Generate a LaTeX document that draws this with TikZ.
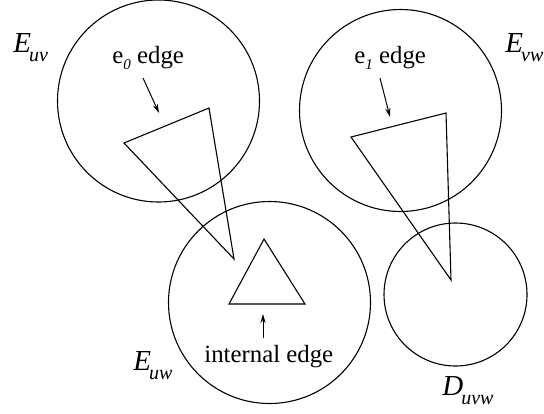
\documentclass[tikz,border=0pt]{standalone}
\usepackage{fontspec}
\setmainfont{Liberation Serif}
\usetikzlibrary{arrows.meta, positioning}
\tikzset{
  >={Stealth[length=4.5pt,width=2.6pt]},
  % regioni circolari
  region/.style={circle,draw,line width=0.55pt,inner sep=0pt,minimum size=101pt},
  small region/.style={region,minimum size=71.5pt},
  % triangoli ed etichette
  face/.style={line width=0.55pt,line join=miter},
  pointer/.style={->,line width=0.5pt},
  setname/.style={inner sep=0pt,anchor=base west,font=\fontsize{14.5}{16}\selectfont\itshape},
  tag/.style={inner sep=0pt,anchor=base west,font=\fontsize{12.4}{15}\selectfont}
}
\newcommand{\regname}[3][-1pt]{#2\kern#1\raisebox{-4.8pt}{\fontsize{10}{10}\selectfont #3}}
\newcommand{\ename}[1]{e\raisebox{-3pt}{\fontsize{7.5}{8}\selectfont\itshape #1}}

\begin{document}
\begin{tikzpicture}[x=0.5pt,y=-0.5pt]
  \useasboundingbox (0,0) rectangle (544,413);
  % regioni
  \node[region] (Euv) at (158.5,101) {};
  \node[region] (Evw) at (400.5,110.5) {};
  \node[region] (Euw) at (269.5,302.5) {};
  \node[small region] (Duvw) at (455.5,294.5) {};
  % nomi delle regioni
  \node[setname] (Euv name) at (13,52) {\regname{E}{uv}};
  \node[setname] (Evw name) at (505,52) {\regname{E}{vw}};
  \node[setname] (Euw name) at (133,370) {\regname{E}{uw}};
  \node[setname] (Duvw name) at (442,395) {\regname{D}{uvw}};
  % triangoli
  \coordinate (t0a) at (124,143);
  \coordinate (t0b) at (209,108);
  \coordinate (t0c) at (234,259);
  \coordinate (t1a) at (351,137);
  \coordinate (t1b) at (446,113);
  \coordinate (t1c) at (451,280);
  \coordinate (tia) at (229,304);
  \coordinate (tib) at (305,304);
  \coordinate (tic) at (264,239);
  \draw[face] (t0a) -- (t0b) -- (t0c) -- cycle;
  \draw[face] (t1a) -- (t1b) -- (t1c) -- cycle;
  \draw[face] (tia) -- (tib) -- (tic) -- cycle;
  % spigoli indicati
  \node[tag] (e0 tag) at (112,63) {\ename{0} edge};
  \node[tag] (e1 tag) at (354,63) {\ename{1} edge};
  \node[tag] (int tag) at (204,362) {internal edge};
  \coordinate (e0 tail) at (143,78);
  \coordinate (e0 tip) at (159,113);
  \coordinate (e1 tail) at (380,78);
  \coordinate (e1 tip) at (390,117);
  \coordinate (int tail) at (263,338);
  \coordinate (int tip) at (263,314);
  \draw[pointer] (e0 tail) -- (e0 tip);
  \draw[pointer] (e1 tail) -- (e1 tip);
  \draw[pointer] (int tail) -- (int tip);
\end{tikzpicture}
\end{document}
